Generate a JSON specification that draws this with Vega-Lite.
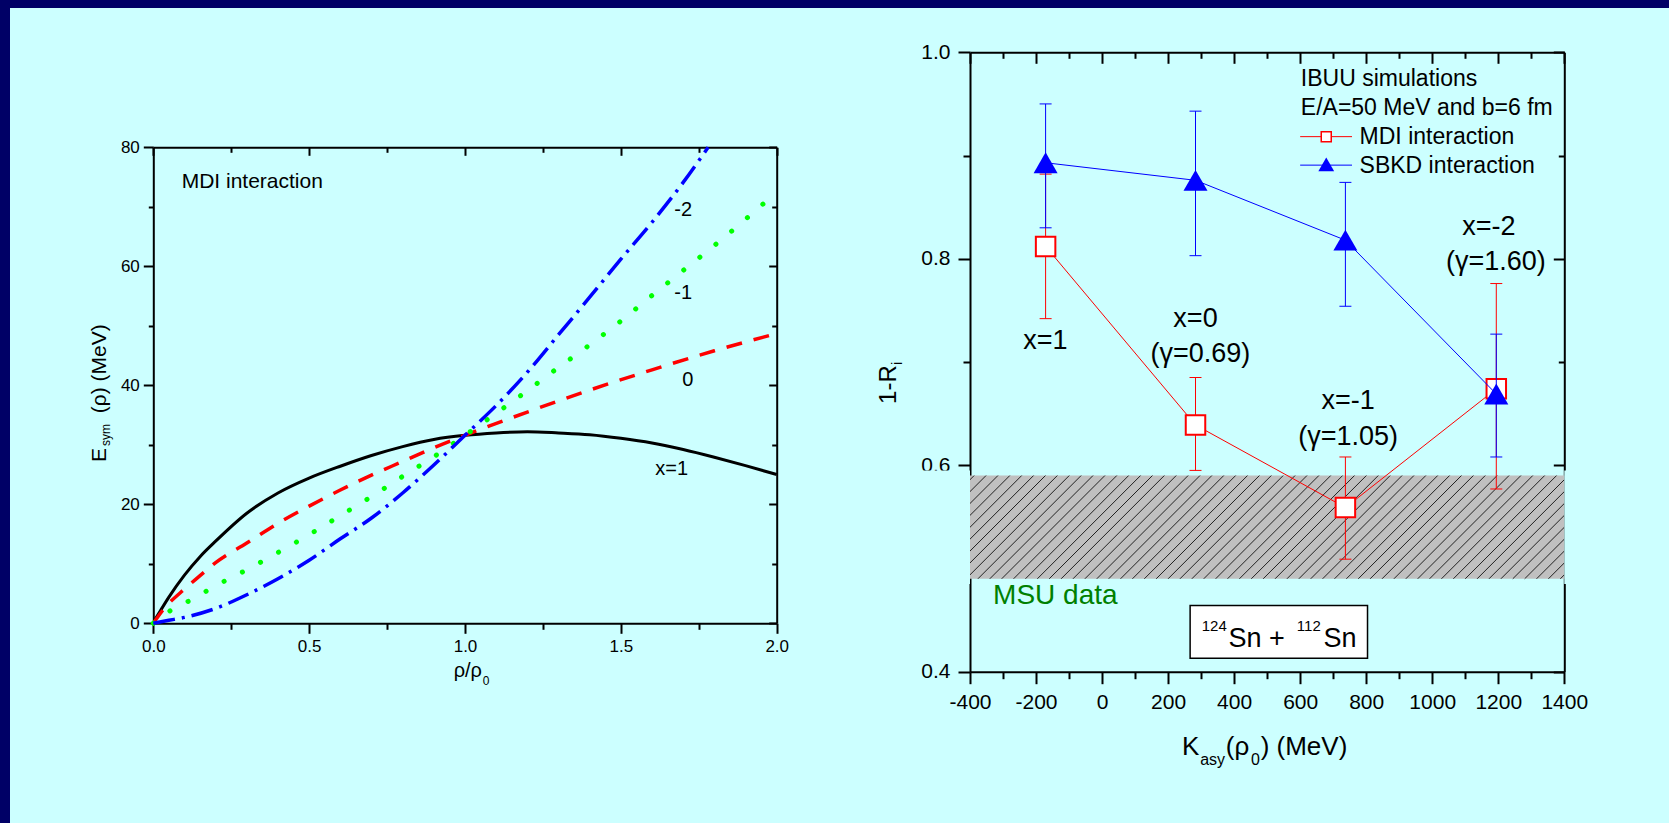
{
"$schema":"https://vega.github.io/schema/vega-lite/v6.json",
"width":1659,"height":815,
"autosize":{"type":"none"},
"padding":{"left":10,"top":8,"right":0,"bottom":0},
"background":"#000066",
"config":{"view":{"fill":"#ccffff","stroke":null},"font":"Liberation Sans","axis":{"labelFont":"Liberation Sans","labelColor":"#000000","tickColor":"#000000","domainColor":"#000000","grid":false,"zindex":1,"labelFlush":false,"labelOverlap":false,"labelBound":false}},
"datasets":{
"esym":[
{"curve":"1","u":0,"E":0},{"curve":"1","u":0.01,"E":1.0},{"curve":"1","u":0.025,"E":2.3},{"curve":"1","u":0.05,"E":4.4},{"curve":"1","u":0.1,"E":8.1},{"curve":"1","u":0.15,"E":11.2},{"curve":"1","u":0.2,"E":13.8},{"curve":"1","u":0.3,"E":18.5},{"curve":"1","u":0.4,"E":21.9},{"curve":"1","u":0.5,"E":24.4},{"curve":"1","u":0.6,"E":26.4},{"curve":"1","u":0.7,"E":28.2},{"curve":"1","u":0.8,"E":29.7},{"curve":"1","u":0.9,"E":30.9},{"curve":"1","u":1.0,"E":31.6},{"curve":"1","u":1.1,"E":32.0},{"curve":"1","u":1.2,"E":32.2},{"curve":"1","u":1.3,"E":32.0},{"curve":"1","u":1.4,"E":31.7},{"curve":"1","u":1.5,"E":31.1},{"curve":"1","u":1.6,"E":30.3},{"curve":"1","u":1.7,"E":29.2},{"curve":"1","u":1.8,"E":27.9},{"curve":"1","u":1.9,"E":26.5},{"curve":"1","u":2.0,"E":25.0},
{"curve":"0","u":0,"E":0},{"curve":"0","u":0.04,"E":2.8},{"curve":"0","u":0.09,"E":5.3},{"curve":"0","u":0.15,"E":8.0},{"curve":"0","u":0.2,"E":10.2},{"curve":"0","u":0.3,"E":13.5},{"curve":"0","u":0.4,"E":16.8},{"curve":"0","u":0.5,"E":19.7},{"curve":"0","u":0.6,"E":22.4},{"curve":"0","u":0.7,"E":24.9},{"curve":"0","u":0.8,"E":27.2},{"curve":"0","u":0.9,"E":29.5},{"curve":"0","u":1.0,"E":31.6},{"curve":"0","u":1.2,"E":35.5},{"curve":"0","u":1.4,"E":39.2},{"curve":"0","u":1.6,"E":42.6},{"curve":"0","u":1.8,"E":45.8},{"curve":"0","u":2.0,"E":48.7},
{"curve":"-1","u":0,"E":0},{"curve":"-1","u":0.06,"E":2.3},{"curve":"-1","u":0.12,"E":3.9},{"curve":"-1","u":0.2,"E":6.3},{"curve":"-1","u":0.3,"E":9.0},{"curve":"-1","u":0.4,"E":11.9},{"curve":"-1","u":0.5,"E":14.9},{"curve":"-1","u":0.6,"E":18.1},{"curve":"-1","u":0.7,"E":21.3},{"curve":"-1","u":0.8,"E":24.7},{"curve":"-1","u":0.9,"E":28.0},{"curve":"-1","u":1.0,"E":31.6},{"curve":"-1","u":1.1,"E":35.3},{"curve":"-1","u":1.2,"E":39.1},{"curve":"-1","u":1.3,"E":43.0},{"curve":"-1","u":1.4,"E":46.8},{"curve":"-1","u":1.5,"E":50.8},{"curve":"-1","u":1.6,"E":55.1},{"curve":"-1","u":1.7,"E":59.3},{"curve":"-1","u":1.8,"E":63.5},{"curve":"-1","u":1.9,"E":67.9},{"curve":"-1","u":2.0,"E":72.5},
{"curve":"-2","u":0,"E":0},{"curve":"-2","u":0.05,"E":0.5},{"curve":"-2","u":0.1,"E":1.0},{"curve":"-2","u":0.2,"E":2.5},{"curve":"-2","u":0.3,"E":4.8},{"curve":"-2","u":0.4,"E":7.5},{"curve":"-2","u":0.5,"E":10.6},{"curve":"-2","u":0.6,"E":14.2},{"curve":"-2","u":0.7,"E":17.7},{"curve":"-2","u":0.8,"E":21.9},{"curve":"-2","u":0.9,"E":26.6},{"curve":"-2","u":1.0,"E":31.6},{"curve":"-2","u":1.1,"E":36.6},{"curve":"-2","u":1.2,"E":42.2},{"curve":"-2","u":1.3,"E":48.5},{"curve":"-2","u":1.4,"E":54.8},{"curve":"-2","u":1.5,"E":61.2},{"curve":"-2","u":1.6,"E":67.4},{"curve":"-2","u":1.7,"E":74.1},{"curve":"-2","u":1.78,"E":80.0}
],
"ri":[
{"model":"MDI","K":-171,"v":0.812,"lo":0.742,"hi":0.882},
{"model":"MDI","K":283,"v":0.639,"lo":0.595,"hi":0.685},
{"model":"MDI","K":737,"v":0.559,"lo":0.509,"hi":0.608},
{"model":"MDI","K":1194,"v":0.674,"lo":0.577,"hi":0.776},
{"model":"SBKD","K":-171,"v":0.893,"lo":0.830,"hi":0.950},
{"model":"SBKD","K":283,"v":0.876,"lo":0.803,"hi":0.943},
{"model":"SBKD","K":737,"v":0.818,"lo":0.754,"hi":0.874},
{"model":"SBKD","K":1194,"v":0.669,"lo":0.608,"hi":0.727}
],
"hatch":[{"h":-700},{"h":-664},{"h":-628},{"h":-592},{"h":-556},{"h":-520},{"h":-484},{"h":-448},{"h":-412},{"h":-376},{"h":-340},{"h":-304},{"h":-268},{"h":-232},{"h":-196},{"h":-160},{"h":-124},{"h":-88},{"h":-52},{"h":-16},{"h":20},{"h":56},{"h":92},{"h":128},{"h":164},{"h":200},{"h":236},{"h":272},{"h":308},{"h":344},{"h":380},{"h":416},{"h":452},{"h":488},{"h":524},{"h":560},{"h":596},{"h":632},{"h":668},{"h":704},{"h":740},{"h":776},{"h":812},{"h":848},{"h":884},{"h":920},{"h":956},{"h":992},{"h":1028},{"h":1064},{"h":1100},{"h":1136},{"h":1172},{"h":1208},{"h":1244},{"h":1280},{"h":1316},{"h":1352},{"h":1388}]
},
"layer":[
{
"data":{"values":[{}]},
"layer":[
{"data":{"name":"esym"},"transform":[{"filter":"datum.curve == '1'"}],"mark":{"type":"line","color":"#000000","strokeWidth":3,"interpolate":"monotone"},
"encoding":{"x":{"field":"u","type":"quantitative","scale":{"domain":[0,2],"range":[143.3,766.7],"nice":false,"zero":false},"axis":{"orient":"bottom","offset":-199.7,"values":[0,0.5,1,1.5,2],"format":".1f","labelFontSize":17,"labelPadding":5,"tickSize":10,"tickWidth":2,"domainWidth":2,"title":null}},
"y":{"field":"E","type":"quantitative","scale":{"domain":[0,80],"range":[615.3,139.3],"nice":false,"zero":false},"axis":{"orient":"left","offset":-143.3,"values":[0,20,40,60,80],"format":"d","labelFontSize":17,"labelPadding":4,"tickSize":10,"tickWidth":2,"domainWidth":2,"title":null}}}},
{"data":{"name":"esym"},"transform":[{"filter":"datum.curve == '0'"}],"mark":{"type":"line","color":"#ff0000","strokeWidth":3.5,"strokeDash":[16,12],"interpolate":"monotone"},
"encoding":{"x":{"field":"u","type":"quantitative","scale":{"domain":[0,2],"range":[143.3,766.7],"nice":false,"zero":false},"axis":{"orient":"bottom","offset":-199.7,"values":[0.25,0.75,1.25,1.75],"labels":false,"domain":false,"tickSize":6,"tickWidth":2,"title":null}},
"y":{"field":"E","type":"quantitative","scale":{"domain":[0,80],"range":[615.3,139.3],"nice":false,"zero":false},"axis":{"orient":"left","offset":-143.3,"values":[10,30,50,70],"labels":false,"domain":false,"tickSize":5,"tickWidth":2,"title":null}}}},
{"data":{"name":"esym"},"transform":[{"filter":"datum.curve == '-1'"}],"mark":{"type":"line","color":"#00ff00","strokeWidth":5,"strokeDash":[0.1,20.5],"strokeCap":"round","interpolate":"monotone"},
"encoding":{"x":{"field":"u","type":"quantitative","scale":{"domain":[0,2],"range":[143.3,766.7],"nice":false,"zero":false},"axis":{"orient":"bottom","offset":-675.7,"values":[0,0.5,1,1.5,2],"labels":false,"tickSize":8,"tickWidth":2,"domainWidth":2,"title":null}},
"y":{"field":"E","type":"quantitative","scale":{"domain":[0,80],"range":[615.3,139.3],"nice":false,"zero":false},"axis":{"orient":"left","offset":-766.7,"values":[0,20,40,60,80],"labels":false,"tickSize":8,"tickWidth":2,"domainWidth":2,"title":null}}}},
{"data":{"name":"esym"},"transform":[{"filter":"datum.curve == '-2'"}],"mark":{"type":"line","color":"#0000ff","strokeWidth":3.5,"strokeDash":[22,7,3,7],"interpolate":"monotone"},
"encoding":{"x":{"field":"u","type":"quantitative","scale":{"domain":[0,2],"range":[143.3,766.7],"nice":false,"zero":false},"axis":{"orient":"bottom","offset":-675.7,"values":[0.25,0.75,1.25,1.75],"labels":false,"domain":false,"tickSize":5,"tickWidth":2,"title":null}},
"y":{"field":"E","type":"quantitative","scale":{"domain":[0,80],"range":[615.3,139.3],"nice":false,"zero":false},"axis":{"orient":"left","offset":-766.7,"values":[10,30,50,70],"labels":false,"domain":false,"tickSize":5,"tickWidth":2,"title":null}}}},
{"mark":{"type":"text","text":"MDI interaction","fontSize":21,"align":"left","baseline":"middle"},"encoding":{"x":{"datum":0.091,"type":"quantitative","axis":null},"y":{"datum":74.2,"type":"quantitative","axis":null}}},
{"mark":{"type":"text","text":"-2","fontSize":20,"align":"center","baseline":"middle"},"encoding":{"x":{"datum":1.70,"type":"quantitative","axis":null},"y":{"datum":69.5,"type":"quantitative","axis":null}}},
{"mark":{"type":"text","text":"-1","fontSize":20,"align":"center","baseline":"middle"},"encoding":{"x":{"datum":1.70,"type":"quantitative","axis":null},"y":{"datum":55.5,"type":"quantitative","axis":null}}},
{"mark":{"type":"text","text":"0","fontSize":20,"align":"center","baseline":"middle"},"encoding":{"x":{"datum":1.715,"type":"quantitative","axis":null},"y":{"datum":40.9,"type":"quantitative","axis":null}}},
{"mark":{"type":"text","text":"x=1","fontSize":20,"align":"center","baseline":"middle"},"encoding":{"x":{"datum":1.663,"type":"quantitative","axis":null},"y":{"datum":26.0,"type":"quantitative","axis":null}}},
{"mark":{"type":"text","text":"E","fontSize":21,"align":"left","baseline":"middle","angle":270},"encoding":{"x":{"datum":-0.1726,"type":"quantitative","axis":null},"y":{"datum":27.1,"type":"quantitative","axis":null}}},
{"mark":{"type":"text","text":"sym","fontSize":12,"align":"left","baseline":"middle","angle":270},"encoding":{"x":{"datum":-0.152,"type":"quantitative","axis":null},"y":{"datum":29.8,"type":"quantitative","axis":null}}},
{"mark":{"type":"text","text":"(ρ) (MeV)","fontSize":21,"align":"left","baseline":"middle","angle":270},"encoding":{"x":{"datum":-0.1726,"type":"quantitative","axis":null},"y":{"datum":35.3,"type":"quantitative","axis":null}}},
{"mark":{"type":"text","text":"ρ/ρ","fontSize":20,"align":"right","baseline":"alphabetic"},"encoding":{"x":{"datum":1.0545,"type":"quantitative","axis":null},"y":{"datum":-9.0,"type":"quantitative","axis":null}}},
{"mark":{"type":"text","text":"0","fontSize":12,"align":"left","baseline":"alphabetic"},"encoding":{"x":{"datum":1.057,"type":"quantitative","axis":null},"y":{"datum":-10.4,"type":"quantitative","axis":null}}}
],
"resolve":{"axis":{"x":"independent","y":"independent"}}
},
{
"data":{"values":[{}]},
"layer":[
{"mark":{"type":"rect","fill":"#c0c0c0"},"encoding":{"x":{"datum":-400,"type":"quantitative","scale":{"domain":[-400,1400],"range":[960,1554.3],"nice":false,"zero":false},"axis":null},"x2":{"datum":1400},"y":{"datum":0.49,"type":"quantitative","scale":{"domain":[0.4,1.0],"range":[663.7,44.3],"nice":false,"zero":false},"axis":null},"y2":{"datum":0.59}}},
{"data":{"name":"hatch"},"mark":{"type":"rule","color":"#222222","strokeWidth":1,"x2Offset":103.2},"encoding":{"x":{"field":"h","type":"quantitative","axis":null},"x2":{"field":"h"},"y":{"datum":0.49,"type":"quantitative","axis":null},"y2":{"datum":0.59}}},
{"mark":{"type":"rect","fill":"#ccffff"},"encoding":{"x":{"datum":-730,"type":"quantitative","axis":null},"x2":{"datum":-400},"y":{"datum":0.485,"type":"quantitative","axis":null},"y2":{"datum":0.595}}},
{"mark":{"type":"rect","fill":"#ccffff"},"encoding":{"x":{"datum":1400,"type":"quantitative","axis":null},"x2":{"datum":1760},"y":{"datum":0.485,"type":"quantitative","axis":null},"y2":{"datum":0.595}}},
{"data":{"name":"ri"},"transform":[{"filter":"datum.model == 'MDI'"}],"mark":{"type":"rule","color":"#ff0000","strokeWidth":1},
"encoding":{"x":{"field":"K","type":"quantitative","scale":{"domain":[-400,1400],"range":[960,1554.3],"nice":false,"zero":false},"axis":{"orient":"bottom","offset":-151.3,"values":[-400,-200,0,200,400,600,800,1000,1200,1400],"labelExpr":"datum.value + ''","labelFontSize":21,"labelPadding":8,"tickSize":12,"tickWidth":2,"domainWidth":2,"title":null}},
"y":{"field":"lo","type":"quantitative","scale":{"domain":[0.4,1.0],"range":[663.7,44.3],"nice":false,"zero":false},"axis":{"orient":"left","offset":-960,"values":[0.4,0.6,0.8,1.0],"format":".1f","labelFontSize":21,"labelPadding":8,"tickSize":12,"tickWidth":2,"domainWidth":2,"title":null}},"y2":{"field":"hi"}}},
{"data":{"name":"ri"},"transform":[{"filter":"datum.model == 'MDI'"}],"mark":{"type":"tick","orient":"horizontal","color":"#ff0000","size":12,"thickness":1,"opacity":1},"encoding":{"x":{"field":"K","type":"quantitative","axis":null},"y":{"field":"lo","type":"quantitative","axis":null}}},
{"data":{"name":"ri"},"transform":[{"filter":"datum.model == 'MDI'"}],"mark":{"type":"tick","orient":"horizontal","color":"#ff0000","size":12,"thickness":1,"opacity":1},"encoding":{"x":{"field":"K","type":"quantitative","axis":null},"y":{"field":"hi","type":"quantitative","axis":null}}},
{"data":{"name":"ri"},"transform":[{"filter":"datum.model == 'MDI'"}],"mark":{"type":"line","color":"#ff0000","strokeWidth":1},
"encoding":{"x":{"field":"K","type":"quantitative","scale":{"domain":[-400,1400],"range":[960,1554.3],"nice":false,"zero":false},"axis":{"orient":"bottom","offset":-770.7,"values":[-400,-200,0,200,400,600,800,1000,1200,1400],"labels":false,"tickSize":11,"tickWidth":2,"domainWidth":2,"title":null}},
"y":{"field":"v","type":"quantitative","scale":{"domain":[0.4,1.0],"range":[663.7,44.3],"nice":false,"zero":false},"axis":{"orient":"left","offset":-1554.3,"values":[0.4,0.6,0.8,1.0],"labels":false,"tickSize":11,"tickWidth":2,"domainWidth":2,"title":null}}}},
{"data":{"name":"ri"},"transform":[{"filter":"datum.model == 'MDI'"}],"mark":{"type":"point","shape":"square","size":380,"filled":true,"fill":"#ffffff","stroke":"#ff0000","strokeWidth":2,"opacity":1},"encoding":{"x":{"field":"K","type":"quantitative","axis":null},"y":{"field":"v","type":"quantitative","axis":null}}},
{"data":{"name":"ri"},"transform":[{"filter":"datum.model == 'SBKD'"}],"mark":{"type":"rule","color":"#0000ff","strokeWidth":1},
"encoding":{"x":{"field":"K","type":"quantitative","scale":{"domain":[-400,1400],"range":[960,1554.3],"nice":false,"zero":false},"axis":{"orient":"bottom","offset":-151.3,"values":[-300,-100,100,300,500,700,900,1100,1300],"labels":false,"domain":false,"tickSize":7,"tickWidth":2,"title":null}},
"y":{"field":"lo","type":"quantitative","scale":{"domain":[0.4,1.0],"range":[663.7,44.3],"nice":false,"zero":false},"axis":{"orient":"left","offset":-960,"values":[0.5,0.7,0.9],"labels":false,"domain":false,"tickSize":7,"tickWidth":2,"title":null}},"y2":{"field":"hi"}}},
{"data":{"name":"ri"},"transform":[{"filter":"datum.model == 'SBKD'"}],"mark":{"type":"tick","orient":"horizontal","color":"#0000ff","size":12,"thickness":1,"opacity":1},"encoding":{"x":{"field":"K","type":"quantitative","axis":null},"y":{"field":"lo","type":"quantitative","axis":null}}},
{"data":{"name":"ri"},"transform":[{"filter":"datum.model == 'SBKD'"}],"mark":{"type":"tick","orient":"horizontal","color":"#0000ff","size":12,"thickness":1,"opacity":1},"encoding":{"x":{"field":"K","type":"quantitative","axis":null},"y":{"field":"hi","type":"quantitative","axis":null}}},
{"data":{"name":"ri"},"transform":[{"filter":"datum.model == 'SBKD'"}],"mark":{"type":"line","color":"#0000ff","strokeWidth":1},
"encoding":{"x":{"field":"K","type":"quantitative","scale":{"domain":[-400,1400],"range":[960,1554.3],"nice":false,"zero":false},"axis":{"orient":"bottom","offset":-770.7,"values":[-300,-100,100,300,500,700,900,1100,1300],"labels":false,"domain":false,"tickSize":6,"tickWidth":2,"title":null}},
"y":{"field":"v","type":"quantitative","scale":{"domain":[0.4,1.0],"range":[663.7,44.3],"nice":false,"zero":false},"axis":{"orient":"left","offset":-1554.3,"values":[0.5,0.7,0.9],"labels":false,"domain":false,"tickSize":6,"tickWidth":2,"title":null}}}},
{"data":{"name":"ri"},"transform":[{"filter":"datum.model == 'SBKD'"}],"mark":{"type":"point","shape":"triangle-up","size":576,"filled":true,"color":"#0000ff","opacity":1},"encoding":{"x":{"field":"K","type":"quantitative","axis":null},"y":{"field":"v","type":"quantitative","axis":null}}},
{"mark":{"type":"text","text":"IBUU simulations","fontSize":23,"align":"left","baseline":"alphabetic"},"encoding":{"x":{"datum":602,"type":"quantitative","axis":null},"y":{"datum":0.9671,"type":"quantitative","axis":null}}},
{"mark":{"type":"text","text":"E/A=50 MeV and b=6 fm","fontSize":23,"align":"left","baseline":"alphabetic"},"encoding":{"x":{"datum":602,"type":"quantitative","axis":null},"y":{"datum":0.9393,"type":"quantitative","axis":null}}},
{"mark":{"type":"text","text":"MDI interaction","fontSize":23,"align":"left","baseline":"alphabetic"},"encoding":{"x":{"datum":780,"type":"quantitative","axis":null},"y":{"datum":0.9113,"type":"quantitative","axis":null}}},
{"mark":{"type":"text","text":"SBKD interaction","fontSize":23,"align":"left","baseline":"alphabetic"},"encoding":{"x":{"datum":780,"type":"quantitative","axis":null},"y":{"datum":0.8835,"type":"quantitative","axis":null}}},
{"mark":{"type":"rule","color":"#ff0000","strokeWidth":1},"encoding":{"x":{"datum":600,"type":"quantitative","axis":null},"x2":{"datum":757},"y":{"datum":0.9183,"type":"quantitative","axis":null}}},
{"mark":{"type":"point","shape":"square","size":100,"filled":true,"fill":"#ffffff","stroke":"#ff0000","strokeWidth":1.5,"opacity":1},"encoding":{"x":{"datum":679,"type":"quantitative","axis":null},"y":{"datum":0.9183,"type":"quantitative","axis":null}}},
{"mark":{"type":"rule","color":"#0000ff","strokeWidth":1},"encoding":{"x":{"datum":600,"type":"quantitative","axis":null},"x2":{"datum":757},"y":{"datum":0.8907,"type":"quantitative","axis":null}}},
{"mark":{"type":"point","shape":"triangle-up","size":250,"filled":true,"color":"#0000ff","opacity":1},"encoding":{"x":{"datum":679,"type":"quantitative","axis":null},"y":{"datum":0.8915,"type":"quantitative","axis":null}}},
{"mark":{"type":"text","text":"x=1","fontSize":27,"align":"center","baseline":"middle"},"encoding":{"x":{"datum":-171.5,"type":"quantitative","axis":null},"y":{"datum":0.7199,"type":"quantitative","axis":null}}},
{"mark":{"type":"text","text":"x=0","fontSize":27,"align":"center","baseline":"middle"},"encoding":{"x":{"datum":283,"type":"quantitative","axis":null},"y":{"datum":0.742,"type":"quantitative","axis":null}}},
{"mark":{"type":"text","text":"(γ=0.69)","fontSize":27,"align":"center","baseline":"middle"},"encoding":{"x":{"datum":298,"type":"quantitative","axis":null},"y":{"datum":0.7077,"type":"quantitative","axis":null}}},
{"mark":{"type":"text","text":"x=-1","fontSize":27,"align":"center","baseline":"middle"},"encoding":{"x":{"datum":745,"type":"quantitative","axis":null},"y":{"datum":0.662,"type":"quantitative","axis":null}}},
{"mark":{"type":"text","text":"(γ=1.05)","fontSize":27,"align":"center","baseline":"middle"},"encoding":{"x":{"datum":745,"type":"quantitative","axis":null},"y":{"datum":0.6274,"type":"quantitative","axis":null}}},
{"mark":{"type":"text","text":"x=-2","fontSize":27,"align":"center","baseline":"middle"},"encoding":{"x":{"datum":1171.5,"type":"quantitative","axis":null},"y":{"datum":0.831,"type":"quantitative","axis":null}}},
{"mark":{"type":"text","text":"(γ=1.60)","fontSize":27,"align":"center","baseline":"middle"},"encoding":{"x":{"datum":1192.7,"type":"quantitative","axis":null},"y":{"datum":0.7966,"type":"quantitative","axis":null}}},
{"mark":{"type":"text","text":"MSU data","fontSize":28,"align":"left","baseline":"middle","color":"#008000"},"encoding":{"x":{"datum":-330,"type":"quantitative","axis":null},"y":{"datum":0.4735,"type":"quantitative","axis":null}}},
{"mark":{"type":"rect","fill":"#ffffff","stroke":"#000000","strokeWidth":1.5},"encoding":{"x":{"datum":266.7,"type":"quantitative","axis":null},"x2":{"datum":804},"y":{"datum":0.4131,"type":"quantitative","axis":null},"y2":{"datum":0.4641}}},
{"mark":{"type":"text","text":"124","fontSize":15,"align":"left","baseline":"alphabetic"},"encoding":{"x":{"datum":302,"type":"quantitative","axis":null},"y":{"datum":0.4393,"type":"quantitative","axis":null}}},
{"mark":{"type":"text","text":"Sn +","fontSize":27,"align":"left","baseline":"alphabetic"},"encoding":{"x":{"datum":383,"type":"quantitative","axis":null},"y":{"datum":0.4242,"type":"quantitative","axis":null}}},
{"mark":{"type":"text","text":"112","fontSize":15,"align":"left","baseline":"alphabetic"},"encoding":{"x":{"datum":590,"type":"quantitative","axis":null},"y":{"datum":0.4393,"type":"quantitative","axis":null}}},
{"mark":{"type":"text","text":"Sn","fontSize":27,"align":"left","baseline":"alphabetic"},"encoding":{"x":{"datum":670.6,"type":"quantitative","axis":null},"y":{"datum":0.4242,"type":"quantitative","axis":null}}},
{"mark":{"type":"text","text":"K","fontSize":26,"align":"left","baseline":"alphabetic"},"encoding":{"x":{"datum":242.4,"type":"quantitative","axis":null},"y":{"datum":0.3191,"type":"quantitative","axis":null}}},
{"mark":{"type":"text","text":"asy","fontSize":16,"align":"left","baseline":"alphabetic"},"encoding":{"x":{"datum":297.3,"type":"quantitative","axis":null},"y":{"datum":0.310,"type":"quantitative","axis":null}}},
{"mark":{"type":"text","text":"(ρ","fontSize":26,"align":"left","baseline":"alphabetic"},"encoding":{"x":{"datum":374.8,"type":"quantitative","axis":null},"y":{"datum":0.3191,"type":"quantitative","axis":null}}},
{"mark":{"type":"text","text":"0","fontSize":16,"align":"left","baseline":"alphabetic"},"encoding":{"x":{"datum":451.2,"type":"quantitative","axis":null},"y":{"datum":0.310,"type":"quantitative","axis":null}}},
{"mark":{"type":"text","text":") (MeV)","fontSize":26,"align":"left","baseline":"alphabetic"},"encoding":{"x":{"datum":480.3,"type":"quantitative","axis":null},"y":{"datum":0.3191,"type":"quantitative","axis":null}}},
{"mark":{"type":"text","text":"1-R","fontSize":24,"align":"left","baseline":"middle","angle":270},"encoding":{"x":{"datum":-646,"type":"quantitative","axis":null},"y":{"datum":0.6594,"type":"quantitative","axis":null}}},
{"mark":{"type":"text","text":"i","fontSize":15,"align":"left","baseline":"middle","angle":270},"encoding":{"x":{"datum":-621,"type":"quantitative","axis":null},"y":{"datum":0.697,"type":"quantitative","axis":null}}}
],
"resolve":{"axis":{"x":"independent","y":"independent"}}
}
],
"resolve":{"scale":{"x":"independent","y":"independent"},"axis":{"x":"independent","y":"independent"}}
}
